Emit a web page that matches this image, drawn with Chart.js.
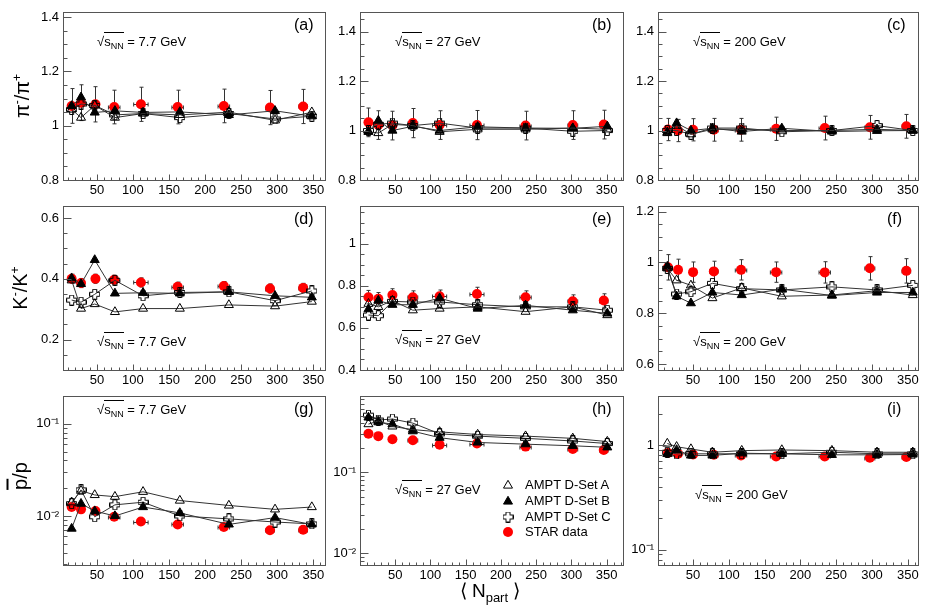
<!DOCTYPE html>
<html>
<head>
<meta charset="utf-8">
<script src="https://cdn.jsdelivr.net/npm/chart.js@4.4.1/dist/chart.umd.min.js"></script>
<style>
body { margin: 0; background: #fff; }
#page { position: relative; width: 926px; height: 608px; overflow: hidden; font-family: 'Liberation Sans', Arial, sans-serif; color: #000; }
#page canvas { position: absolute; }
.tag { position: absolute; font-size: 16px; white-space: nowrap; }
.snn { position: absolute; font-size: 13px; white-space: nowrap; }
.snn .ov { border-top: 1px solid #000; padding-top: 1px; }
.snn sub { font-size: 9px; vertical-align: -3px; line-height: 0; }
.ytitle { position: absolute; font-size: 20px; white-space: nowrap; transform: translate(-50%, -50%) rotate(-90deg); }
.ytitle sup { font-size: 12px; }
.xtitle { position: absolute; font-size: 19px; white-space: nowrap; transform: translate(-50%, -50%); }
.xtitle sub { font-size: 13px; }
.leg { position: absolute; font-size: 13px; white-space: nowrap; }
</style>
</head>
<body>
<div id="page"></div>
<script>
// centrality (N_part) for each energy
const amptX77 = [15, 28, 47, 75, 114, 165, 233, 297, 348];
const starX77 = [15, 28, 48, 74, 111, 162, 226, 290, 336];
const starXErr77 = [2, 3, 4, 8, 10, 8, 8, 6, 6];
const amptX27 = [12, 26, 46, 75, 113, 167, 235, 302, 351];
const starX27 = [12, 26, 46, 75, 113, 166, 235, 302, 346];
const starXErr27 = [2, 3, 4, 7, 10, 10, 8, 7, 6];
const amptX200 = [14, 27, 47, 77, 118, 174, 244, 307, 357];
const starX200 = [15, 29, 50, 79, 117, 166, 234, 297, 348];
const starXErr200 = [2, 3, 4, 6, 8, 8, 8, 7, 6];

// pi-/pi+
const setAPi77 = [1.06, 1.03, 1.075, 1.03, 1.045, 1.04, 1.05, 1.02, 1.05];
const setBPi77 = [1.073, 1.105, 1.049, 1.055, 1.049, 1.051, 1.04, 1.055, 1.035];
const setCPi77 = [1.06, 1.08, 1.075, 1.04, 1.045, 1.03, 1.045, 1.025, 1.035];
const starPi77 = [1.073, 1.085, 1.079, 1.069, 1.079, 1.069, 1.073, 1.067, 1.071];
const starPi77Err = [0.064, 0.066, 0.065, 0.062, 0.063, 0.062, 0.062, 0.063, 0.063];
const setAPi27 = [0.995, 0.99, 1.025, 1.02, 0.995, 1.005, 1.005, 1.01, 1.005];
const setBPi27 = [0.996, 1.04, 1.0, 1.017, 1.0, 1.015, 1.01, 1.009, 1.017];
const setCPi27 = [1.0, 1.025, 1.03, 1.02, 1.03, 1.01, 1.01, 0.997, 1.0];
const starPi27 = [1.033, 1.022, 1.02, 1.03, 1.022, 1.022, 1.02, 1.022, 1.024];
const starPi27Err = [0.058, 0.058, 0.058, 0.059, 0.058, 0.059, 0.058, 0.058, 0.058];
const setAPi200 = [0.99, 1.02, 0.985, 1.005, 1.005, 1.0, 1.0, 1.005, 1.0];
const setBPi200 = [0.993, 1.03, 1.0, 1.009, 0.996, 1.009, 0.996, 0.999, 1.0];
const setCPi200 = [1.0, 1.0, 0.985, 1.01, 1.01, 0.995, 1.0, 1.02, 1.0];
const starPi200 = [1.004, 1.0, 1.003, 1.003, 1.003, 1.007, 1.01, 1.013, 1.017];
const starPi200Err = [0.045, 0.045, 0.045, 0.046, 0.046, 0.047, 0.048, 0.048, 0.048];

// K-/K+
const setAK77 = [0.395, 0.302, 0.317, 0.291, 0.302, 0.302, 0.314, 0.31, 0.325];
const setBK77 = [0.402, 0.383, 0.462, 0.352, 0.354, 0.352, 0.357, 0.344, 0.339];
const setCK77 = [0.33, 0.323, 0.349, 0.395, 0.344, 0.355, 0.357, 0.328, 0.36];
const starK77 = [0.4, 0.386, 0.4, 0.397, 0.388, 0.374, 0.376, 0.368, 0.37];
const starK77Err = [0.015, 0.015, 0.015, 0.015, 0.015, 0.015, 0.015, 0.015, 0.015];
const setAK27 = [0.715, 0.7, 0.73, 0.684, 0.692, 0.7, 0.677, 0.7, 0.661];
const setBK27 = [0.689, 0.73, 0.71, 0.71, 0.741, 0.692, 0.707, 0.684, 0.669];
const setCK27 = [0.661, 0.658, 0.726, 0.723, 0.723, 0.71, 0.7, 0.7, 0.684];
const starK27 = [0.746, 0.738, 0.756, 0.746, 0.75, 0.761, 0.746, 0.727, 0.73];
const starK27Err = [0.032, 0.03, 0.03, 0.03, 0.03, 0.032, 0.03, 0.03, 0.032];
const setAK200 = [0.977, 0.93, 0.91, 0.86, 0.9, 0.867, 0.872, 0.889, 0.872];
const setBK200 = [0.984, 0.867, 0.84, 0.882, 0.872, 0.895, 0.87, 0.882, 0.882];
const setCK200 = [0.977, 0.876, 0.885, 0.918, 0.897, 0.892, 0.904, 0.892, 0.91];
const starK200 = [0.981, 0.971, 0.962, 0.965, 0.971, 0.962, 0.961, 0.977, 0.967];
const starK200Err = [0.05, 0.042, 0.04, 0.04, 0.04, 0.04, 0.042, 0.046, 0.048];

// pbar/p
const setAP77 = [0.0141, 0.0188, 0.0169, 0.0162, 0.0183, 0.0147, 0.013, 0.0118, 0.0125];
const setBP77 = [0.0073, 0.0136, 0.0113, 0.01, 0.0125, 0.0108, 0.0081, 0.0096, 0.0081];
const setCP77 = [0.0136, 0.0192, 0.0098, 0.0132, 0.0141, 0.01, 0.0093, 0.0086, 0.0082];
const starP77 = [0.0125, 0.0118, 0.0113, 0.0098, 0.0087, 0.0081, 0.0076, 0.007, 0.0071];
const starP77Err = [0.0004, 0.0004, 0.0004, 0.0003, 0.0003, 0.0003, 0.0003, 0.0003, 0.0003];
const setAP27 = [0.393, 0.43, 0.368, 0.336, 0.315, 0.292, 0.279, 0.262, 0.239];
const setBP27 = [0.475, 0.415, 0.393, 0.321, 0.267, 0.233, 0.222, 0.212, 0.203];
const setCP27 = [0.507, 0.441, 0.454, 0.404, 0.298, 0.279, 0.262, 0.243, 0.226];
const starP27 = [0.298, 0.279, 0.255, 0.248, 0.218, 0.226, 0.207, 0.194, 0.188];
const starP27Err = [0.008, 0.008, 0.007, 0.007, 0.006, 0.006, 0.006, 0.006, 0.006];
const setAP200 = [1.037, 0.965, 0.918, 0.855, 0.886, 0.899, 0.886, 0.855, 0.855];
const setBP200 = [0.826, 0.899, 0.797, 0.797, 0.837, 0.826, 0.808, 0.808, 0.814];
const setCP200 = [0.855, 0.826, 0.826, 0.826, 0.826, 0.826, 0.855, 0.826, 0.826];
const starP200 = [0.843, 0.826, 0.814, 0.808, 0.797, 0.78, 0.78, 0.758, 0.769];
const starP200Err = [0.02, 0.02, 0.02, 0.02, 0.02, 0.02, 0.02, 0.02, 0.02];

// tick labels
const xLabels = [50, 100, 150, 200, 250, 300, 350];
const piLabels = [0.8, 1, 1.2, 1.4];
const k77Labels = [0.2, 0.4, 0.6];
const k27Labels = [0.4, 0.6, 0.8, 1];
const k200Labels = [0.6, 0.8, 1, 1.2];
const pLowLabels = [0.01, 0.1];
const p200Labels = [0.1, 1];

const legendNames = ['AMPT D-Set A', 'AMPT D-Set B', 'AMPT D-Set C', 'STAR data'];

// pad geometry (plot area edges in page pixels)
const colLeft = [63, 360, 658];
const colRight = [325, 623, 918];
const rowTop = [6, 200, 390];
const rowBottom = [180, 370, 565];
const colRange = [[3, 366], [0, 373], [1, 364]];

const panels = [
  { tag: '(a)', col: 0, row: 0, y: [0.8, 1.42], labels: piLabels, sets: [setAPi77, setBPi77, setCPi77], star: starPi77, err: starPi77Err, energy: '7.7', snn: [97, 34] },
  { tag: '(b)', col: 1, row: 0, y: [0.8, 1.48], labels: piLabels, sets: [setAPi27, setBPi27, setCPi27], star: starPi27, err: starPi27Err, energy: '27', snn: [395, 34] },
  { tag: '(c)', col: 2, row: 0, y: [0.8, 1.48], labels: piLabels, sets: [setAPi200, setBPi200, setCPi200], star: starPi200, err: starPi200Err, energy: '200', snn: [693, 34] },
  { tag: '(d)', col: 0, row: 1, y: [0.1, 0.64], labels: k77Labels, sets: [setAK77, setBK77, setCK77], star: starK77, err: starK77Err, energy: '7.7', snn: [97, 334] },
  { tag: '(e)', col: 1, row: 1, y: [0.4, 1.18], labels: k27Labels, sets: [setAK27, setBK27, setCK27], star: starK27, err: starK27Err, energy: '27', snn: [395, 332] },
  { tag: '(f)', col: 2, row: 1, y: [0.577, 1.223], labels: k200Labels, sets: [setAK200, setBK200, setCK200], star: starK200, err: starK200Err, energy: '200', snn: [693, 334] },
  { tag: '(g)', col: 0, row: 2, y: [0.00294, 0.201], log: true, labels: pLowLabels, sets: [setAP77, setBP77, setCP77], star: starP77, err: starP77Err, energy: '7.7', snn: [97, 402] },
  { tag: '(h)', col: 1, row: 2, y: [0.00713, 0.879], log: true, labels: pLowLabels, sets: [setAP27, setBP27, setCP27], star: starP27, err: starP27Err, energy: '27', snn: [395, 482] },
  { tag: '(i)', col: 2, row: 2, y: [0.0711, 2.97], log: true, labels: p200Labels, sets: [setAP200, setBP200, setCP200], star: starP200, err: starP200Err, energy: '200', snn: [695, 487] }
];

const xByCol = [
  { ampt: amptX77, star: starX77, xErr: starXErr77 },
  { ampt: amptX27, star: starX27, xErr: starXErr27 },
  { ampt: amptX200, star: starX200, xErr: starXErr200 }
];

Chart.defaults.font.family = "'Liberation Sans', Arial, sans-serif";
Chart.defaults.font.size = 13;
Chart.defaults.color = '#000';

const page = document.getElementById('page');

// open cross marker (ROOT style 28)
function crossMarker() {
  const c = document.createElement('canvas');
  c.width = 11; c.height = 11;
  const g = c.getContext('2d');
  const a = 0.5, b = 3.5, d = 7.5, e = 10.5;
  g.beginPath();
  g.moveTo(b, a); g.lineTo(d, a); g.lineTo(d, b); g.lineTo(e, b); g.lineTo(e, d);
  g.lineTo(d, d); g.lineTo(d, e); g.lineTo(b, e); g.lineTo(b, d); g.lineTo(a, d);
  g.lineTo(a, b); g.lineTo(b, b); g.closePath();
  g.strokeStyle = '#000'; g.lineWidth = 1; g.stroke();
  return c;
}
const crossImg = crossMarker();

const supDigits = { '1': '¹', '2': '²' };
const fmtLog = v => {
  if (Math.abs(v - 1) < 1e-9) return '1';
  const p = Math.round(Math.log10(v));
  return '10⁻' + supDigits[String(-p)];
};

// frame with inward ROOT ticks
const rootAxes = {
  id: 'rootAxes',
  afterDatasetsDraw(chart, args, o) {
    const { ctx, chartArea: a } = chart;
    const xs = chart.scales.x, ys = chart.scales.y;
    const L = Math.round(a.left) + 0.5, B = Math.round(a.bottom) + 0.5;
    ctx.save();
    ctx.strokeStyle = '#555';
    ctx.lineWidth = 1;
    ctx.strokeRect(L, Math.round(a.top) + 0.5, Math.round(a.right) - Math.round(a.left), Math.round(a.bottom) - Math.round(a.top));
    ctx.beginPath();
    for (let v = Math.ceil(xs.min / 10) * 10; v < xs.max; v += 10) {
      const px = Math.round(xs.getPixelForValue(v)) + 0.5;
      const len = v % 50 === 0 ? 6 : 3;
      ctx.moveTo(px, B); ctx.lineTo(px, B - len);
    }
    if (o.log) {
      for (let d = Math.floor(Math.log10(ys.min)); d <= Math.ceil(Math.log10(ys.max)); d++) {
        for (let k = 1; k <= 9; k++) {
          const v = k * Math.pow(10, d);
          if (v < ys.min || v > ys.max) continue;
          const py = Math.round(ys.getPixelForValue(v)) + 0.5;
          ctx.moveTo(L, py); ctx.lineTo(L + (k === 1 ? 8 : 4), py);
        }
      }
    } else {
      for (let i = Math.ceil(ys.min / 0.05 - 1e-6); i * 0.05 <= ys.max + 1e-9; i++) {
        const v = i * 0.05;
        const py = Math.round(ys.getPixelForValue(v)) + 0.5;
        ctx.moveTo(L, py); ctx.lineTo(L + (i % 4 === 0 ? 8 : 4), py);
      }
    }
    ctx.stroke();
    ctx.restore();
  }
};

// error bars with small end caps
const errorBars = {
  id: 'errorBars',
  beforeDatasetsDraw(chart) {
    const { ctx } = chart;
    const xs = chart.scales.x, ys = chart.scales.y;
    ctx.save();
    ctx.strokeStyle = '#333';
    ctx.lineWidth = 1;
    ctx.beginPath();
    chart.data.datasets.forEach(ds => {
      if (!ds.errY) return;
      ds.data.forEach((p, i) => {
        const px = Math.round(xs.getPixelForValue(p.x)) + 0.5;
        const py = Math.round(ys.getPixelForValue(p.y)) + 0.5;
        const t = ys.getPixelForValue(p.y + ds.errY[i]);
        const b = ys.getPixelForValue(p.y - ds.errY[i]);
        if (b - t > 8) {
          ctx.moveTo(px, t); ctx.lineTo(px, b);
          ctx.moveTo(px - 2, t); ctx.lineTo(px + 2, t);
          ctx.moveTo(px - 2, b); ctx.lineTo(px + 2, b);
        }
        const l = xs.getPixelForValue(p.x - ds.errX[i]);
        const r = xs.getPixelForValue(p.x + ds.errX[i]);
        if (r - l > 8) {
          ctx.moveTo(l, py); ctx.lineTo(r, py);
          ctx.moveTo(l, py - 2); ctx.lineTo(l, py + 2);
          ctx.moveTo(r, py - 2); ctx.lineTo(r, py + 2);
        }
      });
    });
    ctx.stroke();
    ctx.restore();
  }
};

const pts = (xs, ys) => xs.map((x, i) => ({ x: x, y: ys[i] }));

panels.forEach(p => {
  const pl = colLeft[p.col], pr = colRight[p.col];
  const pt = rowTop[p.row], pb = rowBottom[p.row];
  const xInfo = xByCol[p.col];

  const cv = document.createElement('canvas');
  cv.width = pr - pl + 51;
  cv.height = pb - pt + 26;
  cv.style.left = (pl - 45) + 'px';
  cv.style.top = (pt - 6) + 'px';
  page.appendChild(cv);

  // AMPT first so their markers sit on top of the STAR points
  const datasets = [
    { data: pts(xInfo.ampt, p.sets[0]), showLine: true, borderColor: '#333', borderWidth: 1,
      pointStyle: 'triangle', pointRadius: 5.2, pointBackgroundColor: 'rgba(0,0,0,0)', pointBorderColor: '#000', pointBorderWidth: 1 },
    { data: pts(xInfo.ampt, p.sets[1]), showLine: true, borderColor: '#333', borderWidth: 1,
      pointStyle: 'triangle', pointRadius: 5.2, pointBackgroundColor: '#000', pointBorderColor: '#000', pointBorderWidth: 1 },
    { data: pts(xInfo.ampt, p.sets[2]), showLine: true, borderColor: '#333', borderWidth: 1,
      pointStyle: crossImg, pointRadius: 5 },
    { data: pts(xInfo.star, p.star), showLine: false, errY: p.err, errX: xInfo.xErr,
      pointStyle: 'circle', pointRadius: 5, pointBackgroundColor: '#ff0000', pointBorderColor: '#ff0000', pointBorderWidth: 0 }
  ];

  new Chart(cv, {
    type: 'scatter',
    data: { datasets: datasets },
    options: {
      responsive: false,
      animation: false,
      events: [],
      layout: { padding: { top: 6, right: 6, left: 0, bottom: 0 } },
      plugins: { legend: { display: false }, tooltip: { enabled: false }, rootAxes: { log: !!p.log } },
      scales: {
        x: {
          type: 'linear', min: colRange[p.col][0], max: colRange[p.col][1],
          afterFit: s => { s.height = 20; },
          afterBuildTicks: s => { s.ticks = xLabels.map(v => ({ value: v })); },
          ticks: { autoSkip: false, maxRotation: 0, padding: 3 },
          grid: { display: false, drawTicks: false },
          border: { display: false }
        },
        y: {
          type: p.log ? 'logarithmic' : 'linear', min: p.y[0], max: p.y[1],
          afterFit: s => { s.width = 45; },
          afterBuildTicks: s => { s.ticks = p.labels.map(v => ({ value: v })); },
          ticks: { autoSkip: false, padding: 4, callback: v => p.log ? fmtLog(v) : String(Math.round(v * 10) / 10) },
          grid: { display: false, drawTicks: false },
          border: { display: false }
        }
      }
    },
    plugins: [errorBars, rootAxes]
  });

  const tag = document.createElement('div');
  tag.className = 'tag';
  tag.textContent = p.tag;
  tag.style.left = (pr - 31) + 'px';
  tag.style.top = (pt + 10) + 'px';
  page.appendChild(tag);

  const snn = document.createElement('div');
  snn.className = 'snn';
  snn.innerHTML = '√<span class="ov">s<sub>NN</sub></span> = ' + p.energy + ' GeV';
  snn.style.left = p.snn[0] + 'px';
  snn.style.top = p.snn[1] + 'px';
  page.appendChild(snn);
});

// axis titles
function addText(cls, html, x, y) {
  const d = document.createElement('div');
  d.className = cls;
  d.innerHTML = html;
  d.style.left = x + 'px';
  d.style.top = y + 'px';
  page.appendChild(d);
}
addText('ytitle', 'π<sup>-</sup>/π<sup>+</sup>', 22, 96);
addText('ytitle', 'K<sup>-</sup>/K<sup>+</sup>', 20, 288);
addText('ytitle', '<span style="text-decoration:overline">p</span>/p', 20, 476);
addText('xtitle', '⟨ N<sub>part</sub> ⟩', 490, 592);

// legend inside panel (h)
const legY = [485, 501, 517, 532];
legendNames.forEach((name, i) => {
  const c = document.createElement('canvas');
  c.width = 14; c.height = 14;
  c.style.left = '501px';
  c.style.top = (legY[i] - 7) + 'px';
  const g = c.getContext('2d');
  if (i < 2) {
    g.beginPath();
    g.moveTo(7, 2.3); g.lineTo(11.5, 10.1); g.lineTo(2.5, 10.1); g.closePath();
    if (i === 1) { g.fillStyle = '#000'; g.fill(); }
    g.strokeStyle = '#000'; g.lineWidth = 1; g.stroke();
  } else if (i === 2) {
    g.drawImage(crossImg, 1.5, 1.5);
  } else {
    g.beginPath(); g.arc(7, 7, 5, 0, Math.PI * 2);
    g.fillStyle = '#ff0000'; g.fill();
  }
  page.appendChild(c);
  addText('leg', name, 525, legY[i] - 8);
});
</script>
</body>
</html>
